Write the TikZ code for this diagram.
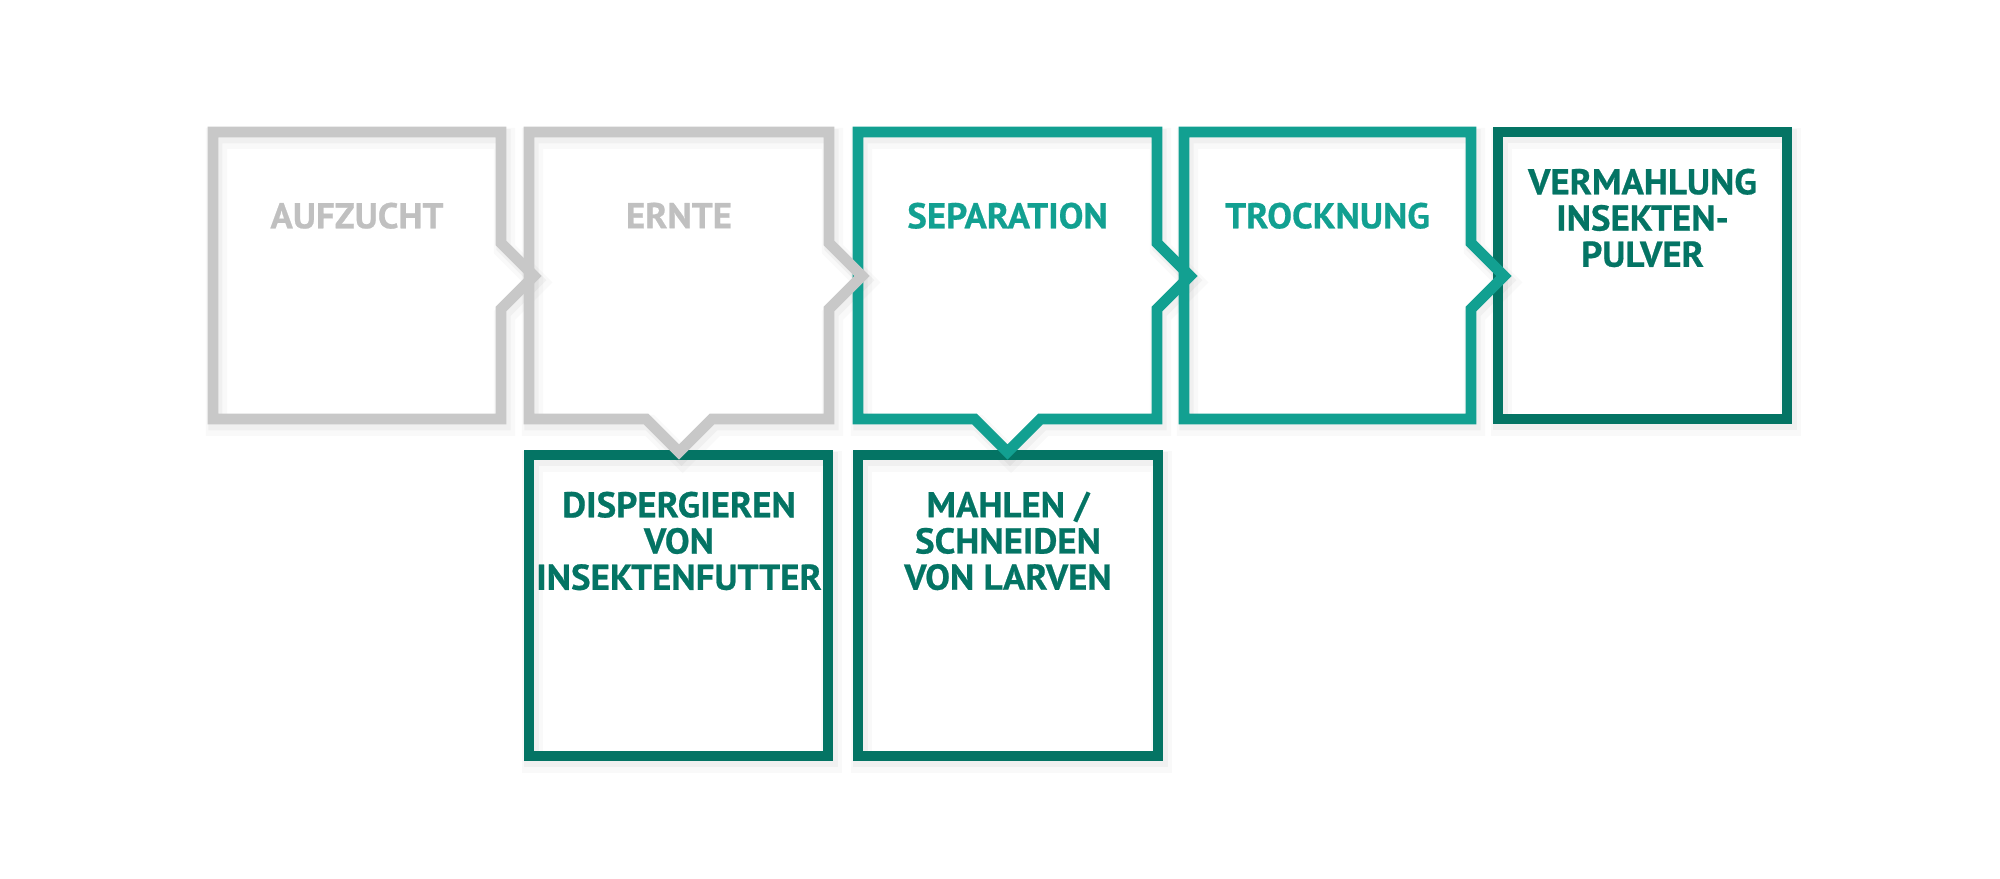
\documentclass[tikz,border=0pt]{standalone}
\usepackage{fontspec}
\newfontfamily\labelfont{PT Sans}[FakeStretch=1.03, BoldFeatures={FakeBold=0.6}]
\definecolor{boxgrey}{RGB}{200,200,200}
\definecolor{txtgrey}{RGB}{192,192,192}
\definecolor{lteal}{RGB}{18,160,145}
\definecolor{dteal}{RGB}{4,116,100}
\tikzset{
  outline/.style={line width=3.1pt, miter limit=10, line join=miter},
  shadeA/.style={line width=6pt, draw=black, opacity=0.025, transform canvas={shift={(1.0pt,-1.8pt)}}},
  shadeB/.style={line width=4pt, draw=black, opacity=0.035, transform canvas={shift={(0.7pt,-1.2pt)}}},
  lbl/.style={font=\labelfont\bfseries\fontsize{10.2pt}{10.3pt}\selectfont, inner sep=0pt, align=center, anchor=north},
}
\newcommand\pathA{(213,132) -- (501,132) -- (501,243) -- (534,276) -- (501,309) -- (501,419) -- (213,419) -- cycle}
\newcommand\pathB{(529,132) -- (829,132) -- (829,243) -- (862,276) -- (829,309) -- (829,419) -- (712,419) -- (679,452) -- (646,419) -- (529,419) -- cycle}
\newcommand\pathC{(858,132) -- (1157,132) -- (1157,243) -- (1190,276) -- (1157,309) -- (1157,419) -- (1040.5,419) -- (1007.5,452) -- (974.5,419) -- (858,419) -- cycle}
\newcommand\pathD{(1184,132) -- (1471,132) -- (1471,243) -- (1504,276) -- (1471,309) -- (1471,419) -- (1184,419) -- cycle}
\newcommand\pathE{(1498,132) -- (1787,132) -- (1787,419) -- (1498,419) -- cycle}
\newcommand\pathF{(529,455) -- (828,455) -- (828,756) -- (529,756) -- cycle}
\newcommand\pathG{(858,455) -- (1158,455) -- (1158,756) -- (858,756) -- cycle}
\begin{document}
\begin{tikzpicture}[x=0.01cm,y=-0.01cm]
\useasboundingbox[fill=white] (0,0) rectangle (2000,879);
% soft shadows
\foreach \p in {\pathG,\pathF,\pathE,\pathD,\pathC,\pathB,\pathA}{
  \draw[shadeA] \p;
  \draw[shadeB] \p;
}
% boxes, drawn back to front
\draw[outline, dteal] \pathG;
\draw[outline, dteal] \pathF;
\draw[outline, dteal] \pathE;
\draw[outline, lteal] \pathD;
\draw[outline, lteal] \pathC;
\draw[outline, boxgrey] \pathB;
\draw[outline, boxgrey] \pathA;
% labels
\node[lbl, text=txtgrey] (aufzucht) at (357,202) {AUFZUCHT};
\node[lbl, text=txtgrey] (ernte) at (679,202) {ERNTE};
\node[lbl, text=lteal] (separation) at (1007.5,202) {SEPARATION};
\node[lbl, text=lteal] (trocknung) at (1327.5,202) {TROCKNUNG};
\node[lbl, text=dteal] (vermahlung) at (1642.5,168) {VERMAHLUNG\\INSEKTEN-\\PULVER};
\node[lbl, text=dteal] (dispergieren) at (679,491) {DISPERGIEREN\\VON\\INSEKTENFUTTER};
\node[lbl, text=dteal] (mahlen) at (1008,491) {MAHLEN /\\SCHNEIDEN\\VON LARVEN};
\end{tikzpicture}
\end{document}
